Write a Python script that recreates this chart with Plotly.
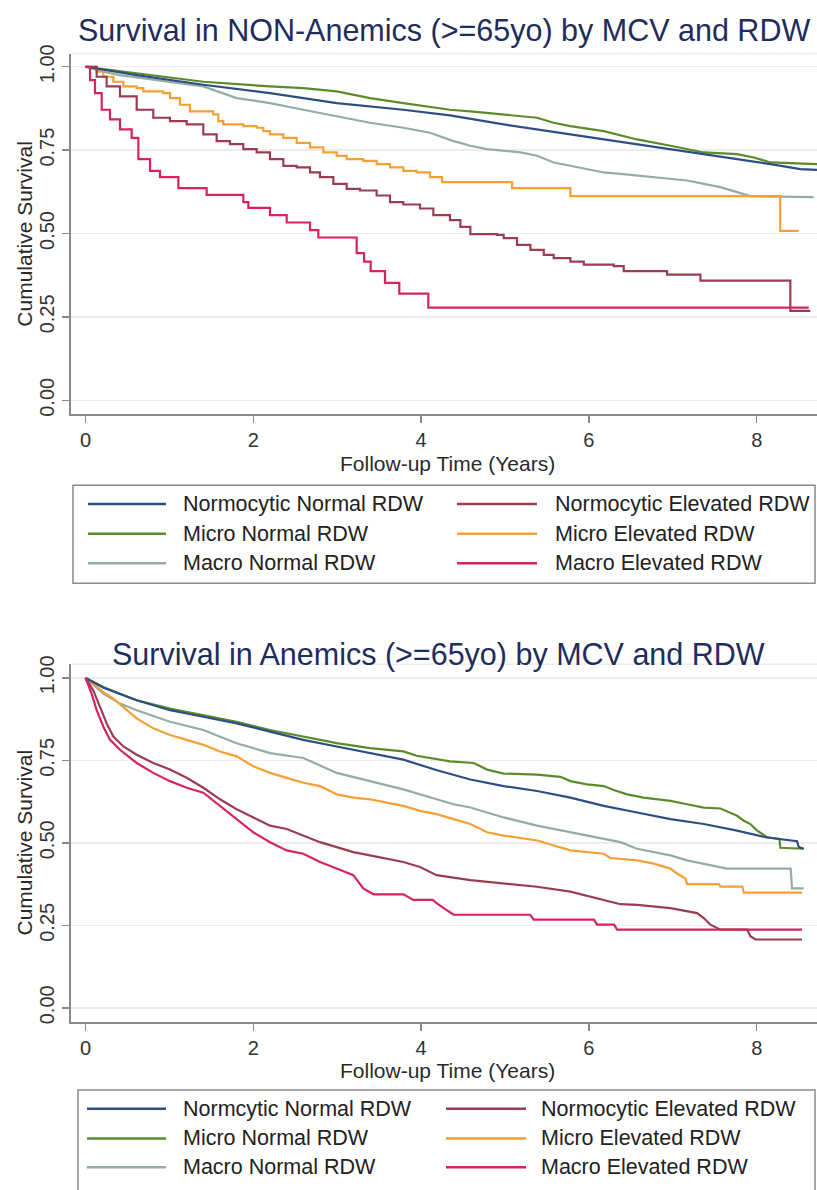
import plotly.graph_objects as go

W, H = 817, 1190
FONT = "Liberation Sans, Arial, Helvetica, sans-serif"

# ---------------- data: top panel (NON-Anemics) ----------------
top_labels = ["Normocytic Normal RDW", "Normocytic Elevated RDW", "Micro Normal RDW",
              "Micro Elevated RDW", "Macro Normal RDW", "Macro Elevated RDW"]

top_nn_t = [0, 0.610, 1.404, 2.199, 2.994, 3.788, 4.344, 4.984, 5.779, 6.574, 7.369, 8.164, 8.520, 8.719]
top_nn_s = [1.0, 0.975, 0.946, 0.921, 0.891, 0.871, 0.854, 0.827, 0.797, 0.768, 0.738, 0.708, 0.693, 0.691]

top_ne_t = [0, 0.133, 0.252, 0.411, 0.610, 0.808, 1.007, 1.206, 1.404, 1.563, 1.722, 1.881, 2.040, 2.199,
            2.358, 2.517, 2.676, 2.795, 2.954, 3.113, 3.272, 3.470, 3.629, 3.788, 3.987, 4.146, 4.344,
            4.468, 4.587, 4.905, 4.984, 5.143, 5.303, 5.462, 5.580, 5.779, 5.939, 6.296, 6.415, 6.932,
            7.329, 8.401, 8.640]
top_ne_s = [1.0, 0.970, 0.941, 0.911, 0.871, 0.847, 0.837, 0.827, 0.797, 0.777, 0.768, 0.753, 0.743, 0.723,
            0.703, 0.698, 0.683, 0.669, 0.649, 0.634, 0.629, 0.614, 0.594, 0.587, 0.575, 0.555, 0.540,
            0.520, 0.498, 0.496, 0.486, 0.466, 0.451, 0.436, 0.426, 0.416, 0.407, 0.402, 0.387, 0.377,
            0.359, 0.268, 0.268]

top_mi_t = [0, 0.610, 1.404, 2.199, 2.596, 2.994, 3.391, 3.788, 4.344, 4.587, 4.984, 5.382, 5.580, 5.779,
            6.177, 6.574, 6.972, 7.369, 7.766, 7.965, 8.164, 8.719]
top_mi_s = [1.0, 0.980, 0.955, 0.941, 0.936, 0.926, 0.906, 0.891, 0.871, 0.866, 0.857, 0.847, 0.832, 0.822,
            0.807, 0.782, 0.763, 0.743, 0.738, 0.728, 0.713, 0.708]

top_me_t = [0, 0.133, 0.213, 0.332, 0.451, 0.610, 0.689, 0.927, 1.007, 1.126, 1.245, 1.523, 1.583, 1.642,
            1.881, 2.040, 2.119, 2.199, 2.358, 2.517, 2.676, 2.835, 2.994, 3.113, 3.311, 3.470, 3.629,
            3.788, 3.947, 4.106, 4.249, 5.084, 5.779, 8.280, 8.499]
top_me_s = [1.0, 0.985, 0.970, 0.955, 0.941, 0.936, 0.926, 0.921, 0.906, 0.886, 0.866, 0.857, 0.837, 0.827,
            0.822, 0.817, 0.807, 0.797, 0.787, 0.772, 0.758, 0.743, 0.733, 0.723, 0.718, 0.708, 0.698,
            0.688, 0.683, 0.669, 0.654, 0.636, 0.612, 0.508, 0.508]

top_ma_t = [0, 0.213, 0.411, 0.610, 1.007, 1.404, 1.801, 2.199, 2.596, 2.994, 3.391, 3.788, 4.106, 4.388,
            4.587, 4.786, 4.984, 5.183, 5.382, 5.580, 5.779, 5.978, 6.177, 6.375, 6.574, 6.773, 6.972,
            7.170, 7.369, 7.568, 7.766, 7.925, 8.679]
top_ma_s = [1.0, 0.985, 0.975, 0.968, 0.955, 0.941, 0.906, 0.891, 0.871, 0.852, 0.832, 0.817, 0.802, 0.777,
            0.763, 0.753, 0.748, 0.743, 0.733, 0.713, 0.703, 0.693, 0.683, 0.679, 0.674, 0.669, 0.664,
            0.659, 0.649, 0.639, 0.624, 0.612, 0.609]

top_mae_t = [0, 0.054, 0.113, 0.193, 0.292, 0.411, 0.550, 0.630, 0.769, 0.888, 1.107, 1.444, 1.881, 1.941,
             2.199, 2.398, 2.676, 2.775, 3.232, 3.320, 3.399, 3.570, 3.740, 4.086, 8.620]
top_mae_s = [1.0, 0.960, 0.921, 0.871, 0.842, 0.812, 0.787, 0.723, 0.688, 0.669, 0.636, 0.616, 0.594, 0.577,
             0.555, 0.533, 0.510, 0.488, 0.441, 0.416, 0.387, 0.352, 0.320, 0.278, 0.278]

# ---------------- data: bottom panel (Anemics) ----------------
bot_labels = ["Normcytic Normal RDW", "Normocytic Elevated RDW", "Micro Normal RDW",
              "Micro Elevated RDW", "Macro Normal RDW", "Macro Elevated RDW"]

bot_nn_t = [0, 0.213, 0.610, 1.007, 1.404, 1.801, 2.199, 2.596, 2.994, 3.391, 3.788, 4.190, 4.587, 4.984,
            5.382, 5.779, 6.177, 6.574, 6.972, 7.369, 7.766, 8.104, 8.481, 8.501, 8.560]
bot_nn_s = [1.0, 0.970, 0.932, 0.902, 0.882, 0.862, 0.837, 0.812, 0.792, 0.772, 0.752, 0.720, 0.692, 0.672,
            0.657, 0.637, 0.612, 0.592, 0.572, 0.557, 0.537, 0.517, 0.505, 0.487, 0.482]

bot_ne_t = [0, 0.093, 0.173, 0.252, 0.332, 0.451, 0.610, 0.808, 1.007, 1.206, 1.404, 1.603, 1.801, 2.000,
            2.199, 2.398, 2.596, 2.795, 2.994, 3.192, 3.391, 3.590, 3.788, 3.987, 4.185, 4.587, 4.984,
            5.382, 5.779, 6.177, 6.375, 6.574, 6.972, 7.289, 7.369, 7.448, 7.568, 7.885, 7.925, 7.985, 8.540]
bot_ne_s = [1.0, 0.962, 0.912, 0.862, 0.822, 0.792, 0.767, 0.742, 0.722, 0.697, 0.667, 0.632, 0.602, 0.577,
            0.552, 0.542, 0.522, 0.502, 0.487, 0.472, 0.462, 0.452, 0.442, 0.427, 0.402, 0.387, 0.377,
            0.367, 0.352, 0.327, 0.314, 0.312, 0.302, 0.287, 0.272, 0.252, 0.237, 0.237, 0.217, 0.207, 0.207]

bot_mi_t = [0, 0.213, 0.411, 0.610, 1.007, 1.404, 1.801, 2.199, 2.596, 2.835, 2.994, 3.391, 3.788, 3.947,
            4.344, 4.627, 4.786, 4.984, 5.382, 5.660, 5.779, 5.978, 6.177, 6.296, 6.455, 6.653, 6.972,
            7.170, 7.369, 7.568, 7.687, 7.766, 7.846, 7.925, 8.005, 8.124, 8.270, 8.282, 8.560]
bot_mi_s = [1.0, 0.972, 0.952, 0.932, 0.907, 0.887, 0.867, 0.842, 0.822, 0.812, 0.802, 0.787, 0.777, 0.764,
            0.747, 0.742, 0.722, 0.710, 0.707, 0.700, 0.687, 0.677, 0.672, 0.660, 0.647, 0.637, 0.627,
            0.617, 0.607, 0.604, 0.592, 0.582, 0.567, 0.557, 0.537, 0.517, 0.512, 0.485, 0.482]

bot_me_t = [0, 0.133, 0.213, 0.332, 0.451, 0.610, 0.808, 1.007, 1.206, 1.404, 1.603, 1.801, 2.000, 2.199,
            2.398, 2.596, 2.795, 2.994, 3.192, 3.391, 3.590, 3.788, 3.987, 4.185, 4.388, 4.587, 4.786,
            4.984, 5.382, 5.779, 6.177, 6.256, 6.574, 6.773, 6.972, 7.051, 7.150, 7.170, 7.550, 7.568,
            7.830, 7.846, 8.540]
bot_me_s = [1.0, 0.972, 0.957, 0.937, 0.912, 0.877, 0.847, 0.827, 0.812, 0.797, 0.777, 0.762, 0.732, 0.712,
            0.697, 0.682, 0.672, 0.647, 0.637, 0.632, 0.622, 0.612, 0.597, 0.587, 0.572, 0.557, 0.532,
            0.522, 0.507, 0.477, 0.467, 0.454, 0.447, 0.437, 0.422, 0.407, 0.392, 0.375, 0.375, 0.367,
            0.367, 0.349, 0.349]

bot_ma_t = [0, 0.213, 0.411, 0.610, 1.007, 1.404, 1.801, 2.199, 2.596, 2.994, 3.391, 3.788, 4.185, 4.388,
            4.587, 4.984, 5.382, 5.779, 6.177, 6.375, 6.574, 6.972, 7.170, 7.369, 7.646, 8.405, 8.421, 8.560]
bot_ma_s = [1.0, 0.952, 0.922, 0.902, 0.867, 0.842, 0.802, 0.772, 0.757, 0.712, 0.687, 0.662, 0.632, 0.617,
            0.607, 0.577, 0.552, 0.532, 0.512, 0.502, 0.482, 0.462, 0.447, 0.437, 0.422, 0.422, 0.362, 0.362]

bot_mae_t = [0, 0.073, 0.133, 0.213, 0.292, 0.411, 0.610, 0.808, 1.007, 1.206, 1.404, 1.603, 1.801, 2.000,
             2.199, 2.398, 2.596, 2.795, 2.994, 3.192, 3.311, 3.431, 3.790, 3.907, 4.140, 4.185, 4.269,
             4.388, 5.300, 5.342, 6.060, 6.097, 6.300, 6.336, 8.540]
bot_mae_s = [1.0, 0.952, 0.902, 0.852, 0.812, 0.782, 0.742, 0.712, 0.687, 0.667, 0.652, 0.612, 0.572, 0.532,
             0.502, 0.477, 0.467, 0.442, 0.422, 0.402, 0.362, 0.344, 0.344, 0.327, 0.327, 0.317, 0.302,
             0.282, 0.282, 0.267, 0.267, 0.252, 0.252, 0.237, 0.237]

colors = ["#2d4e85", "#9b3d50", "#5b8c2a", "#f5a033", "#93ada3", "#d8245c"]

top_series = [(top_nn_t, top_nn_s, "linear"), (top_ne_t, top_ne_s, "hv"), (top_mi_t, top_mi_s, "linear"),
              (top_me_t, top_me_s, "hv"), (top_ma_t, top_ma_s, "linear"), (top_mae_t, top_mae_s, "hv")]
bot_series = [(bot_nn_t, bot_nn_s, "linear"), (bot_ne_t, bot_ne_s, "linear"), (bot_mi_t, bot_mi_s, "linear"),
              (bot_me_t, bot_me_s, "linear"), (bot_ma_t, bot_ma_s, "linear"), (bot_mae_t, bot_mae_s, "linear")]

fig = go.Figure()
draw_order = [4, 3, 2, 0, 1, 5]
for idx in draw_order:
    t, s, shp = top_series[idx]
    fig.add_trace(go.Scatter(x=t, y=s, mode="lines", name=top_labels[idx], showlegend=False,
                             line=dict(color=colors[idx], width=2.2, shape=shp), xaxis="x", yaxis="y"))
for idx in draw_order:
    t, s, shp = bot_series[idx]
    fig.add_trace(go.Scatter(x=t, y=s, mode="lines", name=bot_labels[idx], showlegend=False,
                             line=dict(color=colors[idx], width=2.2, shape=shp), xaxis="x2", yaxis="y2"))


def px(x):
    return x / W


def py(y):
    return 1 - y / H


xdom = [px(71), 1.0]
xrange_ = [-14.5 / 83.9, 731.5 / 83.9]
axis_common = dict(showline=True, linecolor="#8a8a8a", linewidth=2, ticks="outside", ticklen=7,
                   tickcolor="#8a8a8a", tickwidth=1.5, zeroline=False,
                   tickfont=dict(family=FONT, size=20, color="#333333"))
xaxis_cfg = dict(axis_common, domain=xdom, range=xrange_, tickvals=[0, 2, 4, 6, 8], showgrid=False)
yaxis_cfg = dict(axis_common, tickvals=[0, 0.25, 0.5, 0.75, 1.0], tickformat=".2f", tickangle=-90,
                 showgrid=True, gridcolor="#ededed", gridwidth=1.5)

fig.update_layout(
    width=W, height=H, autosize=False, margin=dict(l=0, r=0, t=0, b=0),
    paper_bgcolor="white", plot_bgcolor="white",
    xaxis=dict(xaxis_cfg, anchor="y"),
    yaxis=dict(yaxis_cfg, domain=[py(409), py(45)], range=[-0.0407, 1.0395], anchor="x"),
    xaxis2=dict(xaxis_cfg, anchor="y2"),
    yaxis2=dict(yaxis_cfg, domain=[py(1023), py(662)], range=[-0.042, 1.041], anchor="x2"),
)

ann = []
shapes = []
# faint top borders of plot regions
for xr, yr in (("x domain", "y domain"), ("x2 domain", "y2 domain")):
    shapes.append(dict(type="line", xref=xr, yref=yr, x0=0, x1=1, y0=1, y1=1,
                       line=dict(color="#eeeeee", width=1.5)))

title_font = dict(family=FONT, size=30.5, color="#1f2d5c")
label_font = dict(family=FONT, size=21, color="#2a2a2a")
ann.append(dict(text="Survival in NON-Anemics (>=65yo) by MCV and RDW", x=px(444), y=py(22),
                xref="paper", yref="paper", showarrow=False, font=title_font, xanchor="center", yanchor="middle"))
ann.append(dict(text="Survival in Anemics (>=65yo) by MCV and RDW", x=px(438), y=py(652),
                xref="paper", yref="paper", showarrow=False, font=title_font, xanchor="center", yanchor="middle"))
for yc in (227, 842):
    ann.append(dict(text="Cumulative Survival", x=px(25), y=py(yc), xref="paper", yref="paper",
                    showarrow=False, textangle=-90, font=label_font, xanchor="center", yanchor="middle"))
for yc in (459, 1072):
    ann.append(dict(text="Follow-up Time (Years)", x=px(447), y=py(yc), xref="paper", yref="paper",
                    showarrow=False, font=label_font, xanchor="center", yanchor="middle"))

# legends
legend_font = dict(family=FONT, size=21.5, color="#222222")
legend_order = [[0, 1], [2, 3], [4, 5]]


def add_legend(labels, box, rows, left_line, left_text, right_line, right_text):
    shapes.append(dict(type="rect", xref="paper", yref="paper", x0=px(box[0]), x1=px(box[2]),
                       y0=py(box[3]), y1=py(box[1]), line=dict(color="#8a8a8a", width=1.5),
                       fillcolor="rgba(0,0,0,0)"))
    for r, pair in enumerate(legend_order):
        yc = rows[r]
        for c, idx in enumerate(pair):
            ln = left_line if c == 0 else right_line
            tx = left_text if c == 0 else right_text
            shapes.append(dict(type="line", xref="paper", yref="paper", x0=px(ln[0]), x1=px(ln[1]),
                               y0=py(yc), y1=py(yc), line=dict(color=colors[idx], width=2.5)))
            ann.append(dict(text=labels[idx], x=px(tx), y=py(yc), xref="paper", yref="paper",
                            showarrow=False, font=legend_font, xanchor="left", yanchor="middle"))


add_legend(top_labels, (73, 481, 815, 580), (500, 530, 560), (88, 166), 181, (457, 537), 553)
add_legend(bot_labels, (78, 1092, 815, 1200), (1111, 1141, 1170), (87, 166), 181, (446, 526), 539)

fig.update_layout(annotations=ann, shapes=shapes)
fig.write_html(
    "out.html",
    config={"responsive": False, "displayModeBar": False, "staticPlot": True},
    default_width="817px",
    default_height="1190px",
    post_script=(
        "document.documentElement.style.margin='0';"
        "document.body.style.margin='0';document.body.style.padding='0';"
        "document.body.style.overflow='hidden';"
        "var d=document.getElementById('{plot_id}');"
        "d.style.position='fixed';d.style.top='0px';d.style.left='0px';"
    ),
)
